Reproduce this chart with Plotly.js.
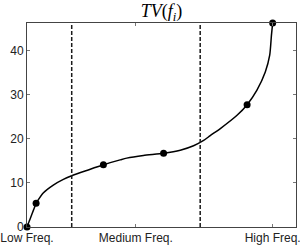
<!DOCTYPE html>
<html>
<head>
<meta charset="utf-8">
<script src="https://cdn.plot.ly/plotly-3.0.1.min.js"></script>
<style>html,body{margin:0;padding:0;background:#fff;}#chart{width:300px;height:247px;}</style>
</head>
<body>
<div id="chart"></div>
<script>
// Frequency position (High Freq. = 100) and TV values along the curve
const curveX = [0, 3.7, 6.6, 10.7, 14.8, 18.2, 24.3, 31.1, 37.9, 40.6, 47.4, 55.6, 62.4, 67.8, 71.9, 74.6, 78.7, 85.5, 89.6, 93.6, 97.0, 98.8, 99.5, 100];
const curveY = [0, 5.4, 7.7, 9.5, 10.8, 11.6, 12.8, 14.1, 15.2, 15.6, 16.2, 16.7, 17.4, 18.4, 19.6, 20.7, 22.3, 25.3, 27.7, 31.0, 35.1, 38.9, 43.4, 46.2];
// Marked samples
const markerX = [0, 3.7, 31.1, 55.6, 89.6, 100];
const markerY = [0, 5.4, 14.1, 16.7, 27.7, 46.2];
// Band boundaries
const boundaryX = [18.2, 70.5];
// Axis ticks
const xTickVals = [0, 44.3, 100];
const xTickText = ["Low Freq.", "Medium Freq.", "High Freq."];
const yTickVals = [0, 10, 20, 30, 40];
const xRange = [0, 109.5];
const yRange = [0, 46.2];

const traces = [
  {x: curveX.slice(0, 2), y: curveY.slice(0, 2), mode: 'lines', line: {color: '#000', width: 1.5}, showlegend: false},
  {x: curveX.slice(1), y: curveY.slice(1), mode: 'lines', line: {color: '#000', width: 1.5, shape: 'spline', smoothing: 0.6}, showlegend: false},
];
boundaryX.forEach(b => traces.push({
  x: [b, b], y: yRange, mode: 'lines',
  line: {color: '#1a1a1a', width: 1.5, dash: '4px,2px'}, showlegend: false
}));
traces.push({x: markerX, y: markerY, mode: 'markers', marker: {color: '#000', size: 7}, cliponaxis: false, showlegend: false});

const axisCommon = {
  showgrid: false, zeroline: false, showline: true, linecolor: '#444', linewidth: 1,
  mirror: 'ticks', ticks: 'inside', ticklen: 3, tickcolor: '#777', tickwidth: 1,
  ticklabeloverflow: 'allow',
  tickfont: {family: 'Liberation Sans, Arial, sans-serif', size: 12, color: '#222'}
};

const layout = {
  width: 300, height: 247,
  margin: {l: 27, r: 4.3, t: 22.7, b: 19.7},
  paper_bgcolor: '#fff', plot_bgcolor: '#fff',
  title: {text: '<i>TV</i>(<i>f<sub>i</sub></i>)', xref: 'paper', x: 0.5, xanchor: 'center', yref: 'container', y: 0.955, yanchor: 'middle',
          font: {family: 'Liberation Serif, Times New Roman, serif', size: 18, color: '#000'}},
  xaxis: Object.assign({}, axisCommon, {range: xRange, tickvals: xTickVals, ticktext: xTickText}),
  yaxis: Object.assign({}, axisCommon, {range: yRange, tickvals: yTickVals})
};

Plotly.newPlot('chart', traces, layout, {staticPlot: true});
</script>
</body>
</html>
